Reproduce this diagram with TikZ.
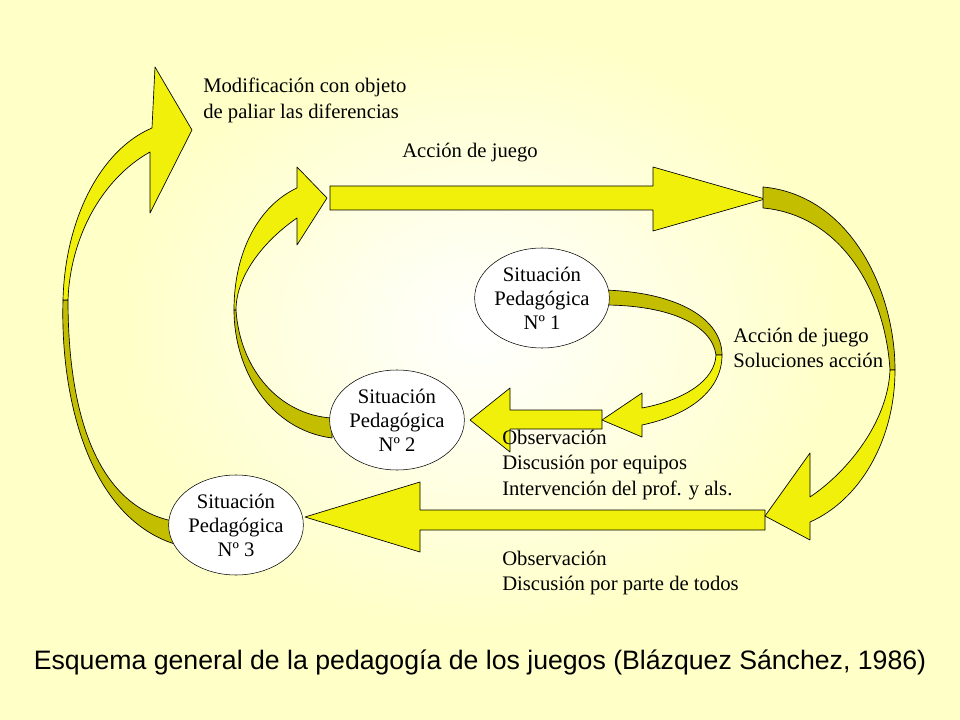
\documentclass[tikz,border=0pt]{standalone}
\usepackage{fontspec}
\setmainfont{Liberation Serif}
\setsansfont{Liberation Sans}
\usetikzlibrary{shapes.geometric}
\definecolor{ylw}{RGB}{240,240,10}
\definecolor{olv}{RGB}{195,190,0}
\definecolor{bgy}{RGB}{255,255,200}
\tikzset{
  sit/.style={ellipse,draw,fill=white,inner sep=0pt,minimum width=73.5pt,minimum height=75pt,align=center,font=\fontsize{15.5}{18}\selectfont},
  lbl/.style={anchor=north west,align=left,inner sep=0pt,font=\fontsize{15.5}{19}\selectfont},
  band/.style={draw=black,line width=0.5pt,line join=round},
}
\begin{document}
\begin{tikzpicture}[x=0.75pt,y=-0.75pt]
\useasboundingbox (0,0) rectangle (960,720);
\fill[bgy] (0,0) rectangle (960,720);
\shade[inner color=white,outer color=bgy] (480,330) ellipse (360 and 300);
% straight arrows
\filldraw[fill=ylw,band] (330,186) -- (653,186) -- (653,167) -- (765,199) -- (653,231) -- (653,210) -- (330,210) -- cycle;
\filldraw[fill=ylw,band] (602,410) -- (510,410) -- (510,388) -- (470,420) -- (510,452) -- (510,429) -- (602,429) -- cycle;
\filldraw[fill=ylw,band] (765,510) -- (420,510) -- (420,482) -- (305,517) -- (420,552) -- (420,530) -- (765,530) -- cycle;
% big left curve
\filldraw[fill=olv,band] (63,300) .. controls (60,400) and (90,520) .. (178,545) -- (178,522) .. controls (100,510) and (68,420) .. (68,300) -- cycle;
\filldraw[fill=ylw,band] (63,300) .. controls (65,220) and (100,150) .. (152,128) -- (155,67) -- (192,130) -- (150,213) -- (150,152) .. controls (100,180) and (70,240) .. (68,300) -- cycle;
% inner left curve
\filldraw[fill=olv,band] (234,310) .. controls (234,370) and (270,430) .. (332,438) -- (332,418) .. controls (280,415) and (240,370) .. (236,310) -- cycle;
\filldraw[fill=ylw,band] (234,310) .. controls (234,250) and (260,205) .. (297,188) -- (297,167) -- (327,198) -- (297,245) -- (297,218) .. controls (265,240) and (236,275) .. (236,310) -- cycle;
% big right curve
\filldraw[fill=olv,band] (763,187) .. controls (850,195) and (895,290) .. (895,370) -- (890,370) .. controls (885,290) and (840,215) .. (763,208) -- cycle;
\filldraw[fill=ylw,band] (895,370) .. controls (895,440) and (860,500) .. (810,522) -- (810,540) -- (765,516) -- (810,453) -- (810,497) .. controls (850,470) and (888,420) .. (890,370) -- cycle;
% inner right curve
\filldraw[fill=olv,band] (603,290) .. controls (680,292) and (722,320) .. (722,355) -- (716,355) .. controls (712,325) and (670,305) .. (603,305) -- cycle;
\filldraw[fill=ylw,band] (722,355) .. controls (722,390) and (690,415) .. (642,425) -- (642,437) -- (602,420) -- (642,393) -- (642,408) .. controls (685,400) and (715,380) .. (716,355) -- cycle;
% situations
\node[sit] (s1) at (542,298) {Situación\\Pedagógica\\Nº 1};
\node[sit] (s2) at (397,420) {Situación\\Pedagógica\\Nº 2};
\node[sit,minimum width=78pt] (s3) at (236,525) {Situación\\Pedagógica\\Nº 3};
% labels
\node[lbl] (mod) at (203,78) {Modificación con objeto\\de paliar las diferencias};
\node[lbl] (acc) at (402,143) {Acción de juego};
\node[lbl] (sol) at (733,328) {Acción de juego\\Soluciones acción};
\node[lbl] (obs1) at (502,430) {Observación\\Discusión por equipos\\Intervención del prof. y als.};
\node[lbl] (obs2) at (502,551) {Observación\\Discusión por parte de todos};
\node[font=\sffamily\fontsize{20}{24}\selectfont] (title) at (480,662) {Esquema general de la pedagogía de los juegos (Blázquez Sánchez, 1986)};
\end{tikzpicture}
\end{document}
